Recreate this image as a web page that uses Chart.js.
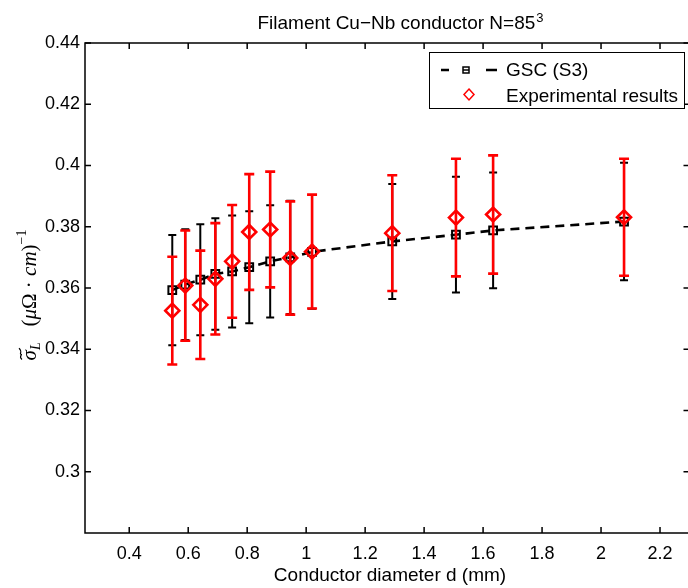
<!DOCTYPE html>
<html>
<head>
<meta charset="utf-8">
<script src="https://cdn.jsdelivr.net/npm/chart.js@4/dist/chart.umd.min.js"></script>
<style>
    html, body { margin: 0; padding: 0; background: #fff; overflow: hidden; }
    #wrap { width: 692px; height: 588px; }
</style>
</head>
<body>
<div id="wrap"><canvas id="chart" width="692" height="588"></canvas></div>
<script>
// values
const diameters = [0.546, 0.590, 0.641, 0.692, 0.749, 0.807, 0.878, 0.946, 1.020, 1.292, 1.508, 1.634, 2.078];
const gscValues = [0.3593, 0.3611, 0.3627, 0.3646, 0.3654, 0.3668, 0.3687, 0.3700, 0.3718, 0.3752, 0.3774, 0.3788, 0.3817];
const gscErrors = [0.0180, 0.0181, 0.0181, 0.0182, 0.0183, 0.0183, 0.0183, 0.0185, 0.0186, 0.0188, 0.0189, 0.0189, 0.0192];
const expValues = [0.3526, 0.3608, 0.3545, 0.3630, 0.3687, 0.3783, 0.3791, 0.3698, 0.3719, 0.3779, 0.3830, 0.3840, 0.3831];
const expErrors = [0.0176, 0.0180, 0.0177, 0.0182, 0.0184, 0.0189, 0.0189, 0.0185, 0.0186, 0.0189, 0.0192, 0.0193, 0.0191];

const xTicks = [0.4, 0.6, 0.8, 1.0, 1.2, 1.4, 1.6, 1.8, 2.0, 2.2];
const yTicks = [0.30, 0.32, 0.34, 0.36, 0.38, 0.40, 0.42, 0.44];

const seriesNames = ['GSC (S3)', 'Experimental results'];
const titleText = 'Filament Cu\u2212Nb conductor N=85';
const titleSup = '3';
const xLabel = 'Conductor diameter d (mm)';

const SANS = '"Liberation Sans", Arial, sans-serif';
const SERIF = '"Liberation Serif", "Times New Roman", serif';

const fmt = v => String(+v.toFixed(4));

function drawErrorBars(chart, values, errors, color, width, capHalf) {
    const ctx = chart.ctx;
    const xs = chart.scales.x;
    const ys = chart.scales.y;
    ctx.save();
    ctx.strokeStyle = color;
    ctx.lineWidth = width;
    diameters.forEach((d, i) => {
        const px = xs.getPixelForValue(d);
        const top = ys.getPixelForValue(values[i] + errors[i]);
        const bot = ys.getPixelForValue(values[i] - errors[i]);
        ctx.beginPath();
        ctx.moveTo(px, top);
        ctx.lineTo(px, bot);
        ctx.moveTo(px - capHalf, top);
        ctx.lineTo(px + capHalf, top);
        ctx.moveTo(px - capHalf, bot);
        ctx.lineTo(px + capHalf, bot);
        ctx.stroke();
    });
    ctx.restore();
}

const errorBarPlugin = {
    id: 'errorBars',
    afterDatasetDraw(chart, args) {
        // after the GSC line: black bars, then red bars, then the diamonds go on top
        if (args.index !== 0) return;
        drawErrorBars(chart, gscValues, gscErrors, '#000', 2, 4);
        drawErrorBars(chart, expValues, expErrors, '#ff0000', 2.6, 5);
    }
};

const framePlugin = {
    id: 'frame',
    beforeDatasetsDraw(chart) {
        const ctx = chart.ctx;
        const a = chart.chartArea;
        const xs = chart.scales.x;
        const ys = chart.scales.y;
        const len = 6;
        ctx.save();
        ctx.strokeStyle = '#000';
        ctx.lineWidth = 1.5;
        ctx.strokeRect(a.left, a.top, a.right - a.left, a.bottom - a.top);
        ctx.beginPath();
        xTicks.forEach(v => {
            const px = xs.getPixelForValue(v);
            ctx.moveTo(px, a.bottom); ctx.lineTo(px, a.bottom - len);
            ctx.moveTo(px, a.top); ctx.lineTo(px, a.top + len);
        });
        yTicks.forEach(v => {
            const py = ys.getPixelForValue(v);
            ctx.moveTo(a.left, py); ctx.lineTo(a.left + len, py);
            ctx.moveTo(a.right, py); ctx.lineTo(a.right - len, py);
        });
        ctx.stroke();
        ctx.restore();
    }
};

const textPlugin = {
    id: 'texts',
    afterDraw(chart) {
        const ctx = chart.ctx;
        ctx.save();
        ctx.fillStyle = '#000';

        // title with superscript
        ctx.font = '19px ' + SANS;
        ctx.textBaseline = 'alphabetic';
        ctx.textAlign = 'left';
        const tw = ctx.measureText(titleText).width;
        ctx.font = '13px ' + SANS;
        const sw = ctx.measureText(titleSup).width;
        const tx = 400 - (tw + sw) / 2;
        ctx.font = '19px ' + SANS;
        ctx.fillText(titleText, tx, 29);
        ctx.font = '13px ' + SANS;
        ctx.fillText(titleSup, tx + tw + 1, 22);

        // x label
        ctx.font = '19px ' + SANS;
        ctx.textAlign = 'center';
        ctx.fillText(xLabel, 390, 581);

        // y label, rotated, LaTeX-like
        const parts = [
            { t: '\u03c3', f: 'italic 21px ' + SERIF, dy: 0, tilde: true },
            { t: 'L', f: 'italic 14px ' + SERIF, dy: 4 },
            { t: '   (', f: '21px ' + SERIF, dy: 0 },
            { t: '\u03bc', f: 'italic 21px ' + SERIF, dy: 0 },
            { t: '\u03a9 \u00b7 ', f: '21px ' + SERIF, dy: 0 },
            { t: 'cm', f: 'italic 21px ' + SERIF, dy: 0 },
            { t: ')', f: '21px ' + SERIF, dy: 0 },
            { t: '\u22121', f: '14px ' + SERIF, dy: -10 }
        ];
        let total = 0;
        parts.forEach(p => { ctx.font = p.f; p.w = ctx.measureText(p.t).width; total += p.w; });
        ctx.translate(36, 295);
        ctx.rotate(-Math.PI / 2);
        ctx.textAlign = 'left';
        let cx = -total / 2;
        parts.forEach(p => {
            ctx.font = p.f;
            ctx.fillText(p.t, cx, p.dy);
            if (p.tilde) {
                ctx.save();
                ctx.strokeStyle = '#000';
                ctx.lineWidth = 1.1;
                ctx.beginPath();
                ctx.moveTo(cx + 1, -14);
                ctx.bezierCurveTo(cx + 4, -18, cx + 6, -13, cx + p.w / 2 + 1, -15);
                ctx.bezierCurveTo(cx + p.w - 4, -17, cx + p.w - 2, -13, cx + p.w + 2, -17);
                ctx.stroke();
                ctx.restore();
            }
            cx += p.w;
        });
        ctx.restore();

        // legend box
        ctx.save();
        ctx.fillStyle = '#fff';
        ctx.fillRect(429, 52, 255, 56);
        ctx.strokeStyle = '#000';
        ctx.lineWidth = 1;
        ctx.strokeRect(429.5, 52.5, 255, 56);
        ctx.lineWidth = 2.5;
        ctx.beginPath();
        ctx.moveTo(441, 70); ctx.lineTo(449, 70);
        ctx.moveTo(486, 70); ctx.lineTo(497, 70);
        ctx.stroke();
        ctx.lineWidth = 1.5;
        ctx.strokeRect(463, 67, 6, 6);
        ctx.beginPath();
        ctx.moveTo(463, 70); ctx.lineTo(469, 70);
        ctx.stroke();
        ctx.strokeStyle = '#ff0000';
        ctx.beginPath();
        ctx.moveTo(469, 89); ctx.lineTo(474, 94.5); ctx.lineTo(469, 100); ctx.lineTo(464, 94.5);
        ctx.closePath();
        ctx.stroke();
        ctx.fillStyle = '#000';
        ctx.font = '19px ' + SANS;
        ctx.textAlign = 'left';
        ctx.textBaseline = 'middle';
        ctx.fillText(seriesNames[0], 506, 71);
        ctx.fillText(seriesNames[1], 506, 97);
        ctx.restore();
    }
};

const ctx = document.getElementById('chart').getContext('2d');
new Chart(ctx, {
    type: 'scatter',
    data: {
        datasets: [{
            label: seriesNames[0],
            data: diameters.map((d, i) => ({ x: d, y: gscValues[i] })),
            showLine: true,
            borderColor: '#000',
            borderWidth: 2.6,
            borderDash: [9, 6],
            pointStyle: 'rect',
            pointRadius: 5.5,
            pointBorderWidth: 2,
            pointBorderColor: '#000',
            pointBackgroundColor: 'rgba(0,0,0,0)',
            order: 1
        }, {
            label: seriesNames[1],
            data: diameters.map((d, i) => ({ x: d, y: expValues[i] })),
            showLine: false,
            pointStyle: 'rectRot',
            pointRadius: 7,
            pointBorderWidth: 2.6,
            pointBorderColor: '#ff0000',
            pointBackgroundColor: 'rgba(0,0,0,0)',
            order: 0
        }]
    },
    options: {
        responsive: false,
        animation: false,
        events: [],
        layout: { autoPadding: false, padding: { left: 0, top: 43, right: 2.5, bottom: 0 } },
        plugins: {
            legend: { display: false },
            title: { display: false },
            tooltip: { enabled: false }
        },
        scales: {
            x: {
                type: 'linear',
                min: 0.25,
                max: 2.3,
                afterBuildTicks: s => { s.ticks = xTicks.map(v => ({ value: v })); },
                afterFit: s => { s.height = 55; s.paddingLeft = 0; s.paddingRight = 0; },
                grid: { display: false, drawTicks: false },
                border: { display: false },
                ticks: {
                    callback: fmt,
                    color: '#000',
                    padding: 10,
                    maxRotation: 0,
                    autoSkip: false,
                    font: { family: SANS, size: 18 }
                }
            },
            y: {
                type: 'linear',
                min: 0.28,
                max: 0.44,
                afterBuildTicks: s => { s.ticks = yTicks.map(v => ({ value: v })); },
                afterFit: s => { s.width = 85; s.paddingTop = 0; s.paddingBottom = 0; },
                grid: { display: false, drawTicks: false },
                border: { display: false },
                ticks: {
                    callback: fmt,
                    color: '#000',
                    padding: 5,
                    autoSkip: false,
                    font: { family: SANS, size: 18 }
                }
            }
        }
    },
    plugins: [framePlugin, errorBarPlugin, textPlugin]
});
</script>
</body>
</html>
